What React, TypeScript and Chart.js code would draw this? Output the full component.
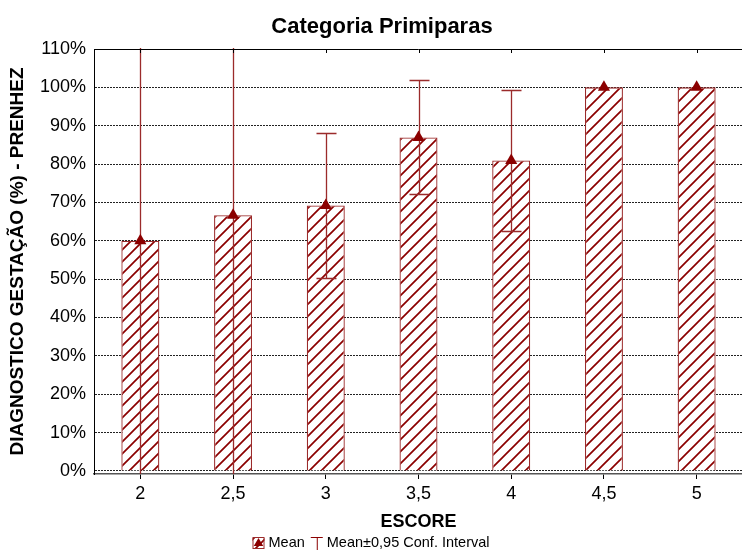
import React, { useEffect, useRef } from "react";
import { Chart, registerables } from "chart.js";

Chart.register(...registerables);

// Pregnancy diagnosis rate (%) by body condition score, primiparous cows
const categories = ["2", "2,5", "3", "3,5", "4", "4,5", "5"];
const meanPct = [60, 66.67, 69.23, 86.96, 80.95, 100, 100];
const ciLower = [-8, -77, 50.2, 72.1, 62.6, 100, 100];
const ciUpper = [128, 210, 88.2, 101.8, 99.3, 100, 100];
const yTicks = [0, 10, 20, 30, 40, 50, 60, 70, 80, 90, 100, 110];

const chartTitle = "Categoria Primiparas";
const xTitle = "ESCORE";
const yTitle = "DIAGNOSTICO GESTAÇÃO (%) - PRENHEZ";
const legendMean = "Mean";
const legendCI = "Mean±0,95 Conf. Interval";

const MAROON = "#8b0000";
const EDGE = "#9b2b2b";
const FONT = "'Liberation Sans', Arial, sans-serif";

function makeHatch(): CanvasPattern | string {
  const s = 12;
  const c = document.createElement("canvas");
  c.width = s;
  c.height = s;
  const g = c.getContext("2d");
  if (!g) return "#ffffff";
  g.fillStyle = "#ffffff";
  g.fillRect(0, 0, s, s);
  g.strokeStyle = MAROON;
  g.lineWidth = 1.7;
  g.beginPath();
  g.moveTo(-1, s + 1);
  g.lineTo(s + 1, -1);
  g.moveTo(-2, 2);
  g.lineTo(2, -2);
  g.moveTo(s - 2, s + 2);
  g.lineTo(s + 2, s - 2);
  g.stroke();
  const p = g.createPattern(c, "repeat");
  return p || "#ffffff";
}

function drawTriangle(ctx: CanvasRenderingContext2D, cx: number, cy: number, r: number) {
  ctx.beginPath();
  ctx.moveTo(cx, cy - r);
  ctx.lineTo(cx + r * 0.95, cy + r * 0.6);
  ctx.lineTo(cx - r * 0.95, cy + r * 0.6);
  ctx.closePath();
  ctx.fill();
}

export default function App() {
  const canvasRef = useRef<HTMLCanvasElement | null>(null);

  useEffect(() => {
    const canvas = canvasRef.current;
    if (!canvas) return;
    const hatch = makeHatch();

    const decor = {
      id: "decor",
      afterDatasetDraw(chart: any, args: any) {
        if (args.index !== 0) return;
        const { ctx, chartArea: a } = chart;
        const x = chart.scales.x;
        const y = chart.scales.y;
        ctx.save();
        ctx.beginPath();
        ctx.rect(a.left, a.top - 1, a.right - a.left, a.bottom - a.top + 1);
        ctx.clip();
        ctx.strokeStyle = EDGE;
        ctx.lineWidth = 1.3;
        categories.forEach((_c, i) => {
          if (ciUpper[i] === ciLower[i]) return;
          const cx = Math.round(x.getPixelForValue(i)) + 0.5;
          const yt = Math.round(y.getPixelForValue(ciUpper[i])) + 0.5;
          const yb = Math.round(y.getPixelForValue(ciLower[i])) + 0.5;
          ctx.beginPath();
          ctx.moveTo(cx, yt);
          ctx.lineTo(cx, yb);
          ctx.moveTo(cx - 10, yt);
          ctx.lineTo(cx + 10, yt);
          ctx.moveTo(cx - 10, yb);
          ctx.lineTo(cx + 10, yb);
          ctx.stroke();
        });
        ctx.restore();
      },
      afterDraw(chart: any) {
        const { ctx, chartArea: a } = chart;
        const x = chart.scales.x;
        ctx.save();
        // frame: top border and left axis
        ctx.strokeStyle = "#000";
        ctx.lineWidth = 1;
        ctx.beginPath();
        ctx.moveTo(a.left, Math.round(a.top) + 0.5);
        ctx.lineTo(a.right, Math.round(a.top) + 0.5);
        ctx.moveTo(Math.round(a.left) + 0.5, a.top);
        ctx.lineTo(Math.round(a.left) + 0.5, a.bottom);
        ctx.stroke();
        // inner ticks on the top border
        ctx.beginPath();
        categories.forEach((_c, i) => {
          const cx = Math.round(x.getPixelForValue(i)) + 0.5;
          ctx.moveTo(cx, a.top);
          ctx.lineTo(cx, a.top + 4);
        });
        ctx.stroke();

        ctx.fillStyle = "#000";
        ctx.textAlign = "center";
        ctx.textBaseline = "middle";
        ctx.font = `bold 22px ${FONT}`;
        ctx.fillText(chartTitle, 382, 27);

        ctx.font = `bold 18px ${FONT}`;
        ctx.fillText(xTitle, (a.left + a.right) / 2, 522);

        ctx.save();
        ctx.translate(18, (a.top + a.bottom) / 2);
        ctx.rotate(-Math.PI / 2);
        ctx.font = `bold 19px ${FONT}`;
        ctx.fillText(yTitle, 0, 0);
        ctx.restore();

        // legend
        ctx.font = `14.5px ${FONT}`;
        const wMean = ctx.measureText(legendMean).width;
        const wCI = ctx.measureText(legendCI).width;
        const total = 12 + 4 + wMean + 6 + 12 + 4 + wCI;
        let lx = 371 - total / 2;
        const ly = 543;
        ctx.fillStyle = hatch as any;
        ctx.fillRect(lx, ly - 6, 12, 12);
        ctx.strokeStyle = EDGE;
        ctx.strokeRect(lx + 0.5, ly - 5.5, 11, 11);
        ctx.fillStyle = MAROON;
        drawTriangle(ctx, lx + 6, ly, 5);
        lx += 16;
        ctx.fillStyle = "#000";
        ctx.textAlign = "left";
        ctx.fillText(legendMean, lx, ly);
        lx += wMean + 6;
        ctx.strokeStyle = MAROON;
        ctx.beginPath();
        ctx.moveTo(lx, ly - 5.5);
        ctx.lineTo(lx + 12, ly - 5.5);
        ctx.moveTo(lx + 6.5, ly - 5.5);
        ctx.lineTo(lx + 6.5, ly + 7);
        ctx.stroke();
        lx += 16;
        ctx.fillText(legendCI, lx, ly);
        ctx.restore();
      },
    };

    const chart = new Chart(canvas, {
      type: "bar",
      data: {
        labels: categories,
        datasets: [
          {
            type: "bar",
            label: legendMean,
            data: meanPct,
            backgroundColor: hatch as any,
            borderColor: EDGE,
            borderWidth: 1.3,
            categoryPercentage: 1,
            barPercentage: 0.41,
            order: 2,
          },
          {
            type: "line",
            label: legendCI,
            data: meanPct,
            showLine: false,
            pointStyle: "triangle",
            pointRadius: 7,
            pointBackgroundColor: MAROON,
            pointBorderColor: MAROON,
            pointBorderWidth: 0,
            order: 1,
          } as any,
        ],
      },
      options: {
        animation: false,
        responsive: false,
        devicePixelRatio: 1,
        layout: { padding: { top: 49, left: 0, right: 4, bottom: 0 } },
        plugins: {
          legend: { display: false },
          title: { display: false },
          tooltip: { enabled: false },
        },
        scales: {
          x: {
            type: "category",
            offset: true,
            grid: {
              display: true,
              offset: false,
              drawOnChartArea: false,
              drawTicks: true,
              tickLength: 5,
              color: "#000",
            },
            border: { display: true, color: "#555", width: 1.5 },
            ticks: {
              color: "#000",
              font: { family: FONT, size: 18 },
              padding: 4,
              maxRotation: 0,
            },
            afterFit(scale: any) {
              scale.height = 77;
            },
          } as any,
          y: {
            min: -0.8,
            max: 110,
            afterBuildTicks(scale: any) {
              scale.ticks = yTicks.map((v) => ({ value: v }));
            },
            grid: {
              display: true,
              drawTicks: false,
              color: (c: any) => (c.tick && c.tick.value === 110 ? "rgba(0,0,0,0)" : "#222"),
              lineWidth: 1,
            },
            border: { display: true, color: "#000", width: 1, dash: [2, 1] },
            ticks: {
              color: "#000",
              font: { family: FONT, size: 18 },
              padding: 8,
              callback: (v: any) => `${v}%`,
            },
            afterFit(scale: any) {
              scale.width = 94;
            },
          } as any,
        },
      },
      plugins: [decor],
    });

    return () => chart.destroy();
  }, []);

  return (
    <div
      style={{
        position: "fixed",
        left: 0,
        top: 0,
        width: 742,
        height: 551,
        overflow: "hidden",
        background: "#fff",
      }}
    >
      <canvas ref={canvasRef} width={750} height={551} style={{ width: 750, height: 551, display: "block" }} />
    </div>
  );
}
